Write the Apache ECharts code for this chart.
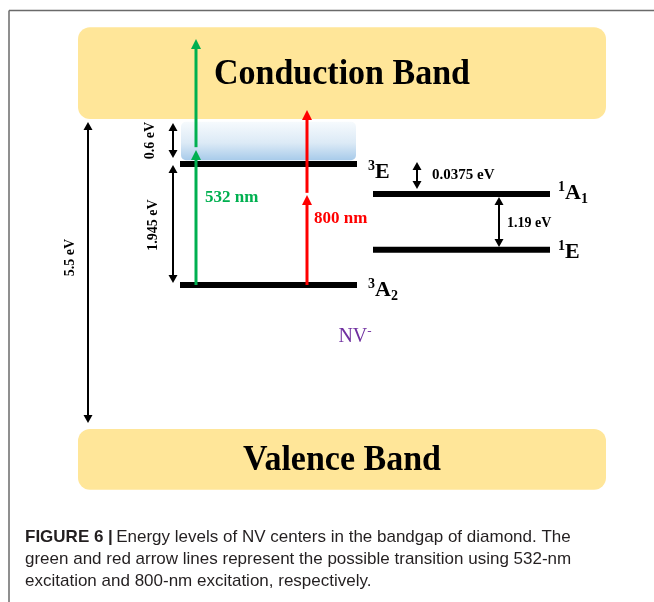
<!DOCTYPE html>
<html>
<head>
<meta charset="utf-8">
<script src="https://cdn.jsdelivr.net/npm/echarts@6/dist/echarts.min.js"></script>
<style>html,body{margin:0;padding:0;background:#fff}#c{width:654px;height:602px}</style>
</head>
<body>
<div id="c"></div>
<script>
// ---------------- DATA (schematic energies in eV: valence-band top = 0, conduction-band bottom = 5.5) ----------------
const bandNames  = ['Conduction Band', 'Valence Band'];
const bandBottom = [5.5, -1.08];
const bandTop    = [7.13, 0];
const bandLeft   = [78, 78];
const bandRight  = [606, 606];

// excited-state continuum under the conduction band
const continuumLeft = [181], continuumRight = [356];
const continuumBottom = [4.77], continuumTop = [5.45];

const levelNames  = ['3E', '3A2', '1A1', '1E'];   // first char = spin multiplicity, last digit = subscript
const levelEnergy = [4.70, 2.555, 4.17, 3.18];
const levelLeft   = [180, 180, 373, 373];
const levelRight  = [357, 357, 550, 550];

// excitation arrows (two segments each)
const excitationNames = ['532 nm', '532 nm', '800 nm', '800 nm'];
const excitationX     = [196, 196, 307, 307];
const excitationFrom  = [2.555, 5.00, 2.555, 4.19];
const excitationTo    = [4.95, 6.92, 4.15, 5.66];
const excitationLabelEnergy = [4.11, 3.73];   // '532 nm', '800 nm'

// energy-gap (double-headed) arrows
const gapNames = ['5.5 eV', '0.6 eV', '1.945 eV', '0.0375 eV', '1.19 eV'];
const gapX     = [88, 173, 173, 417, 499];
const gapUpper = [5.447, 5.429, 4.684, 4.737, 4.116];
const gapLower = [0.106, 4.808, 2.590, 4.258, 3.229];

const centerName = 'NV';
const centerCharge = '-';
const centerPos = [355, 1.632];

const captionBold = 'FIGURE 6 |';
const captionLines = [
  'Energy levels of NV centers in the bandgap of diamond. The',
  'green and red arrow lines represent the possible transition using 532-nm',
  'excitation and 800-nm excitation, respectively.'
];

// ---------------- STYLE / LAYOUT ----------------
const SERIF = "'Liberation Serif','Times New Roman',serif";
const SANS  = "'Liberation Sans',Arial,Helvetica,sans-serif";
const excitationColor = {'532 nm': '#00B050', '800 nm': '#FF0000'};
const excitationLabelDx = {'532 nm': 9, '800 nm': 7};
const levelLabelDx = [11, 11, 8, 8];
const levelLabelDy = [8, 5, -1, 3];
const gapLabelStyle = [
  {rot: true, dx: -18, dy: -15, align: 'center', size: 14},
  {rot: true, dx: -23, dy: 0, align: 'center', size: 14},
  {rot: true, dx: -20, dy: 1, align: 'center', size: 14},
  {rot: false, dx: 15, dy: 0, align: 'left', size: 15},
  {rot: false, dx: 8, dy: 1, align: 'left', size: 14}
];

function head(x, tip, dir, hw, hh) { // dir -1: pointing up, +1: pointing down
  return {type: 'polygon', shape: {points: [[x, tip], [x - hw / 2, tip - dir * hh], [x + hw / 2, tip - dir * hh]]}};
}

const chart = echarts.init(document.getElementById('c'));
const option = {
  animation: false,
  backgroundColor: '#ffffff',
  grid: {left: 0, right: 0, top: 119, bottom: 173},
  xAxis: {type: 'value', min: 0, max: 654, show: false},
  yAxis: {type: 'value', min: 0, max: 5.5, show: false},
  graphic: [
    {type: 'line', shape: {x1: 9, y1: 10.5, x2: 654, y2: 10.5}, style: {stroke: '#6a6a6a', lineWidth: 1.5}, z: 100},
    {type: 'line', shape: {x1: 9, y1: 10.5, x2: 9, y2: 602}, style: {stroke: '#6a6a6a', lineWidth: 1.5}, z: 100},
    {
      type: 'text', left: 25, top: 529, z: 100,
      style: {
        text: '{b|' + captionBold + '} {n|' + captionLines[0] + '}\n{n|' + captionLines[1] + '}\n{n|' + captionLines[2] + '}',
        rich: {
          b: {fontFamily: SANS, fontWeight: 'bold', fontSize: 17, lineHeight: 22, fill: '#231f20'},
          n: {fontFamily: SANS, fontWeight: 'normal', fontSize: 17, lineHeight: 22, fill: '#231f20'}
        }
      }
    }
  ],
  series: [
    { // bands
      type: 'custom', clip: false, silent: true, z: 1,
      data: bandNames.map((n, i) => [bandLeft[i], bandBottom[i], bandRight[i], bandTop[i]]),
      renderItem(params, api) {
        const a = api.coord([api.value(0), api.value(3)]);
        const b = api.coord([api.value(2), api.value(1)]);
        return {type: 'group', children: [
          {type: 'rect', shape: {x: a[0], y: a[1], width: b[0] - a[0], height: b[1] - a[1], r: 12}, style: {fill: '#FFE699'}},
          {type: 'text', x: (a[0] + b[0]) / 2, y: (a[1] + b[1]) / 2 + 1.5, scaleY: 1.06,
            style: {text: bandNames[params.dataIndex], fill: '#000', fontFamily: SERIF, fontWeight: 'bold', fontSize: 34, align: 'center', verticalAlign: 'middle'}}
        ]};
      }
    },
    { // continuum box
      type: 'custom', clip: false, silent: true, z: 2,
      data: continuumLeft.map((v, i) => [continuumLeft[i], continuumBottom[i], continuumRight[i], continuumTop[i]]),
      renderItem(params, api) {
        const a = api.coord([api.value(0), api.value(3)]);
        const b = api.coord([api.value(2), api.value(1)]);
        return {type: 'rect', shape: {x: a[0], y: a[1], width: b[0] - a[0], height: b[1] - a[1], r: 5},
          style: {fill: new echarts.graphic.LinearGradient(0, 0, 0, 1, [
            {offset: 0, color: '#F6FAFD'}, {offset: 0.55, color: '#DCEAF6'}, {offset: 1, color: '#A8CBEA'}])}};
      }
    },
    { // levels
      type: 'custom', clip: false, silent: true, z: 3,
      data: levelNames.map((n, i) => [levelLeft[i], levelEnergy[i], levelRight[i]]),
      renderItem(params, api) {
        const i = params.dataIndex;
        const a = api.coord([api.value(0), api.value(1)]);
        const b = api.coord([api.value(2), api.value(1)]);
        const name = levelNames[i];
        const txt = '{sup|' + name[0] + '}{main|' + name[1] + '}' + (name.length > 2 ? '{sub|' + name.slice(2) + '}' : '');
        return {type: 'group', children: [
          {type: 'rect', shape: {x: a[0], y: a[1] - 3, width: b[0] - a[0], height: 6}, style: {fill: '#000'}},
          {type: 'text', x: b[0] + levelLabelDx[i], y: b[1] + levelLabelDy[i],
            style: {text: txt, align: 'left', verticalAlign: 'middle',
              rich: {
                sup: {fontFamily: SERIF, fontWeight: 'bold', fontSize: 14, lineHeight: 14, verticalAlign: 'top', fill: '#000'},
                main: {fontFamily: SERIF, fontWeight: 'bold', fontSize: 22, lineHeight: 26, fill: '#000'},
                sub: {fontFamily: SERIF, fontWeight: 'bold', fontSize: 14, lineHeight: 14, verticalAlign: 'bottom', fill: '#000'}
              }}}
        ]};
      }
    },
    { // excitation arrows
      type: 'custom', clip: false, silent: true, z: 5,
      data: excitationNames.map((n, i) => [excitationX[i], excitationFrom[i], excitationTo[i]]),
      renderItem(params, api) {
        const i = params.dataIndex;
        const name = excitationNames[i];
        const color = excitationColor[name];
        const p0 = api.coord([api.value(0), api.value(1)]);
        const p1 = api.coord([api.value(0), api.value(2)]);
        const x = p0[0];
        const hw = 10, hh = 10;
        const children = [
          {type: 'line', shape: {x1: x, y1: p0[1], x2: x, y2: p1[1] + hh - 1}, style: {stroke: color, lineWidth: 3}},
          Object.assign(head(x, p1[1], -1, hw, hh), {style: {fill: color}})
        ];
        if (excitationNames.indexOf(name) === i) {
          const k = Object.keys(excitationColor).indexOf(name);
          const lp = api.coord([api.value(0), excitationLabelEnergy[k]]);
          children.push({type: 'text', x: x + excitationLabelDx[name], y: lp[1],
            style: {text: name, fill: color, fontFamily: SERIF, fontWeight: 'bold', fontSize: 17, align: 'left', verticalAlign: 'middle'}});
        }
        return {type: 'group', children};
      }
    },
    { // gap arrows
      type: 'custom', clip: false, silent: true, z: 6,
      data: gapNames.map((n, i) => [gapX[i], gapUpper[i], gapLower[i]]),
      renderItem(params, api) {
        const i = params.dataIndex;
        const pu = api.coord([api.value(0), api.value(1)]);
        const pl = api.coord([api.value(0), api.value(2)]);
        const x = pu[0];
        const hw = 9, hh = 8;
        const s = gapLabelStyle[i];
        const mid = (pu[1] + pl[1]) / 2;
        return {type: 'group', children: [
          {type: 'line', shape: {x1: x, y1: pu[1] + hh - 1, x2: x, y2: pl[1] - hh + 1}, style: {stroke: '#000', lineWidth: 2}},
          Object.assign(head(x, pu[1], -1, hw, hh), {style: {fill: '#000'}}),
          Object.assign(head(x, pl[1], 1, hw, hh), {style: {fill: '#000'}}),
          {type: 'text', x: x + s.dx, y: mid + s.dy, rotation: s.rot ? Math.PI / 2 : 0,
            style: {text: gapNames[i], fill: '#000', fontFamily: SERIF, fontWeight: 'bold', fontSize: s.size, align: s.align, verticalAlign: 'middle'}}
        ]};
      }
    },
    { // centre label
      type: 'custom', clip: false, silent: true, z: 7,
      data: [centerPos],
      renderItem(params, api) {
        const p = api.coord([api.value(0), api.value(1)]);
        return {type: 'text', x: p[0], y: p[1],
          style: {text: '{main|' + centerName + '}{sup|' + centerCharge + '}', align: 'center', verticalAlign: 'middle',
            rich: {
              main: {fontFamily: SERIF, fontSize: 20, lineHeight: 24, fill: '#7030A0'},
              sup: {fontFamily: SERIF, fontSize: 13, lineHeight: 12, verticalAlign: 'top', fill: '#7030A0'}
            }}};
      }
    }
  ]
};
chart.setOption(option);
</script>
</body>
</html>
